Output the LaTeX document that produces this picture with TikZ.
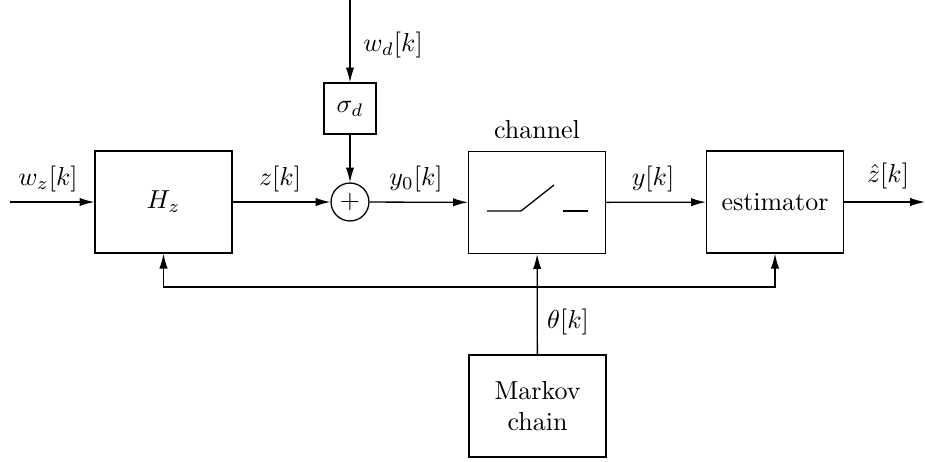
\documentclass[tikz,border=0pt]{standalone}
\usetikzlibrary{arrows.meta}
\begin{document}
\begin{tikzpicture}[x=0.385pt,y=-0.385pt,
  blk/.style={draw,line width=0.5pt,minimum width=52.7pt,minimum height=39.3pt,inner sep=0pt,align=center},
  sblk/.style={draw,line width=0.5pt,minimum width=20pt,minimum height=19.6pt,inner sep=0pt},
  sumc/.style={draw,circle,line width=0.5pt,minimum size=14.6pt,inner sep=0pt},
  arr/.style={-{Latex[length=5.7pt,width=3.2pt]},line width=0.5pt},
  ln/.style={line width=0.5pt},
  lbl/.style={inner sep=1pt}]
\useasboundingbox (0,0) rectangle (925,461);
\node[blk] (hz) at (163.5,202) {$H_z$};
\node[blk] (ch) at (537,202.5) {};
\node[blk] (est) at (775,202) {estimator};
\node[blk] (mc) at (537.5,406) {Markov\\chain};
\node[sblk] (sig) at (350,108.5) {$\sigma_d$};
\node[sumc] (sum) at (350,202) {$+$};
\coordinate (in) at (10,202);
\coordinate (out) at (925,202);
\coordinate (top) at (350,0);
\draw[arr] (in) -- (hz);
\draw[arr] (hz) -- (sum);
\draw[arr] (sum) -- (ch);
\draw[arr] (ch) -- (est);
\draw[arr] (est) -- (out);
\draw[arr] (top) -- (sig);
\draw[arr] (sig) -- (sum);
\draw[arr] (mc) -- (ch);
\draw[arr] (ch.south |- 0,287) -| (hz.south);
\draw[arr] (ch.south |- 0,287) -| (est.south);
% switch
\coordinate (s1) at (487,211);
\coordinate (s2) at (521,211);
\coordinate (s3) at (554,185);
\coordinate (s4) at (563,211);
\coordinate (s5) at (588,211);
\draw[ln] (s1) -- (s2) -- (s3);
\draw[ln] (s4) -- (s5);
% labels
\node[lbl] (lwz) at (48,179) {$w_z[k]$};
\node[lbl] (lz) at (280,179) {$z[k]$};
\node[lbl] (ly0) at (416,179) {$y_0[k]$};
\node[lbl] (ly) at (653,179) {$y[k]$};
\node[lbl] (lzh) at (888,176) {$\hat{z}[k]$};
\node[lbl] (lwd) at (393,45) {$w_d[k]$};
\node[lbl] (lth) at (568,322) {$\theta[k]$};
\node[lbl] (lch) at (537,130) {channel};
\end{tikzpicture}
\end{document}
